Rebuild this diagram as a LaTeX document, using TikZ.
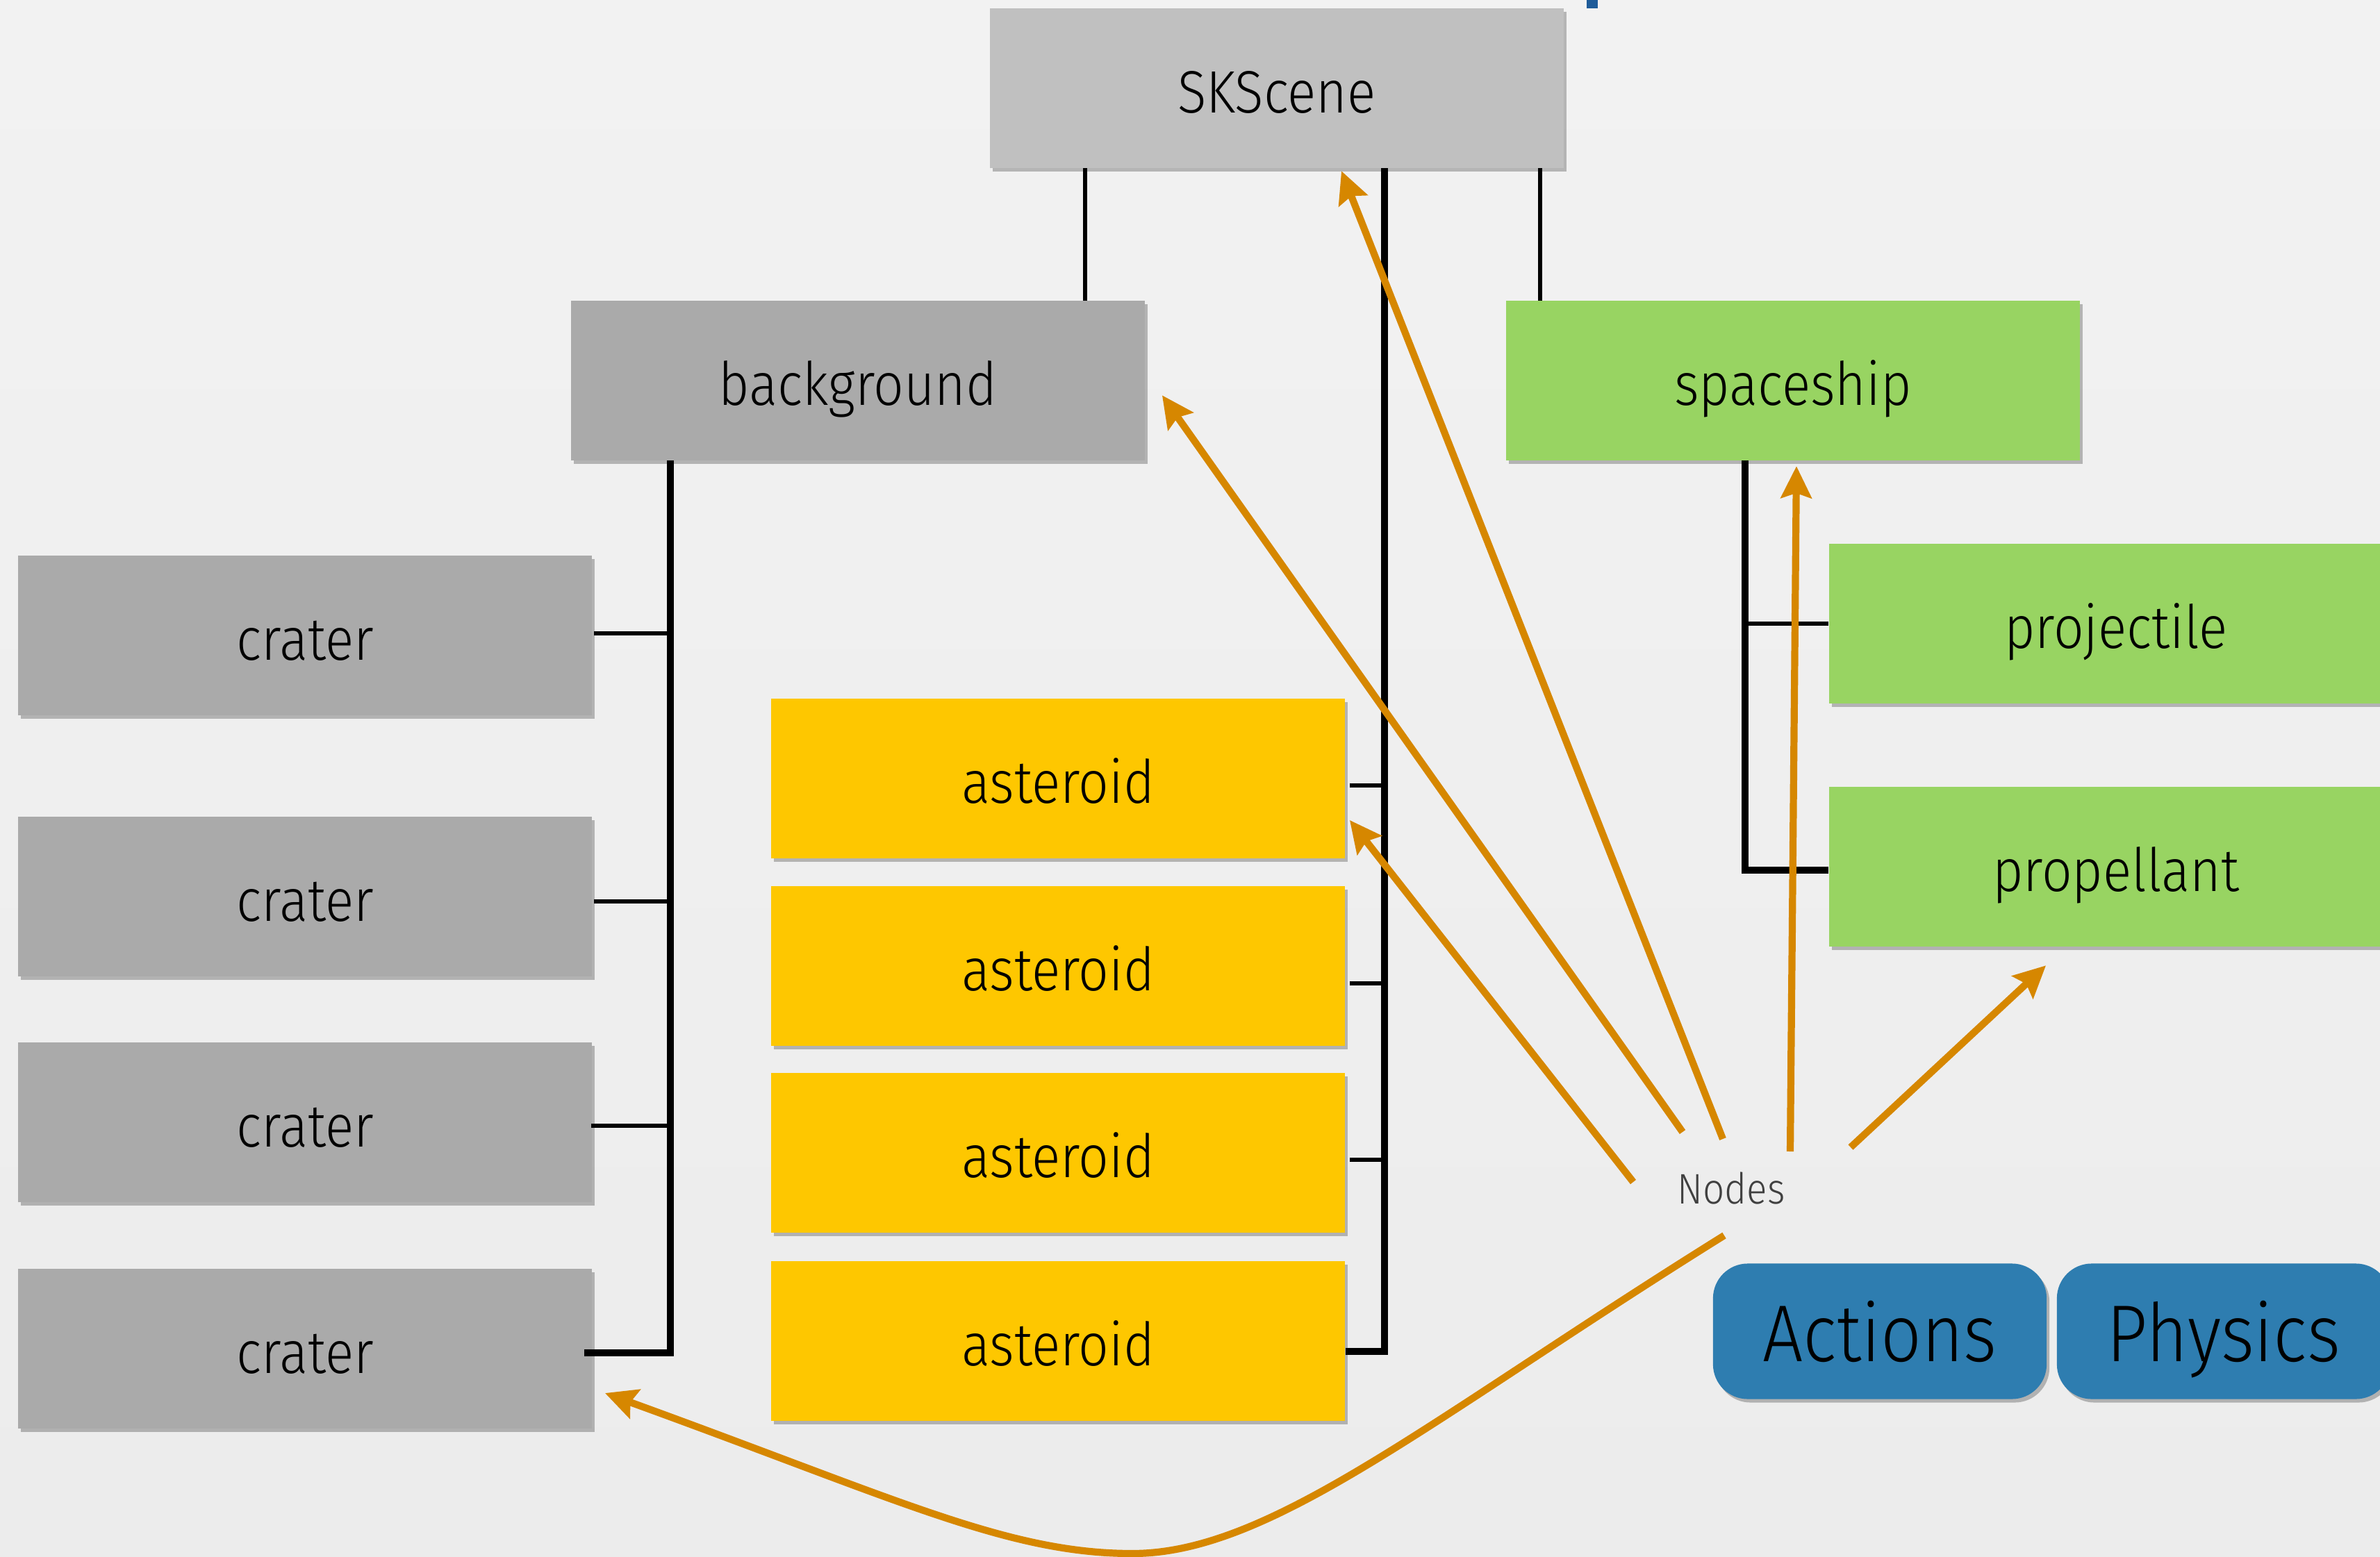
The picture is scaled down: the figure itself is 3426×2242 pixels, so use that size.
\documentclass[tikz,border=0pt]{standalone}
\usepackage{fontspec}
\setmainfont{Fira Sans}[UprightFont=* Light, FakeStretch=0.89]
\usetikzlibrary{arrows.meta,shadows,calc}
\definecolor{pagetop}{HTML}{F2F2F2}
\definecolor{pagemid}{HTML}{FDFDFD}
\definecolor{pagebot}{HTML}{ECECEC}
\definecolor{scenegray}{HTML}{C0C0C0}
\definecolor{nodegray}{HTML}{AAAAAA}
\definecolor{shipgreen}{HTML}{98D462}
\definecolor{rockyellow}{HTML}{FEC700}
\definecolor{featureblue}{HTML}{2E7DB0}
\definecolor{pointer}{HTML}{D68700}
\definecolor{titleblue}{HTML}{1F5C99}
\tikzset{
  treebox/.style={rectangle, inner sep=0pt, minimum width=8.26cm, minimum height=2.29cm,
    text height=20pt, text depth=0pt,
    font=\fontsize{24.5}{28}\selectfont, text=black,
    drop shadow={shadow xshift=0.04cm, shadow yshift=-0.05cm, opacity=0.25, fill=black}},
  feature/.style={rectangle, rounded corners=0.5cm, inner sep=0pt, minimum width=4.8cm,
    minimum height=1.95cm, fill=featureblue, text height=24.5pt, text depth=0pt,
    font=\fontsize{33}{38}\selectfont, text=black,
    drop shadow={shadow xshift=0.04cm, shadow yshift=-0.05cm, opacity=0.25, fill=black}},
  thinlink/.style={draw=black, line width=1.5pt},
  thicklink/.style={draw=black, line width=3.1pt},
  pointer arrow/.style={draw=pointer, line width=2.9pt,
    -{Stealth[length=13pt, width=12.5pt, inset=2pt]}}
}
\begin{document}
\begin{tikzpicture}[x=0.01cm, y=-0.01cm]
\useasboundingbox (0,0) rectangle (3426,2242);
\shade[top color=pagetop, middle color=pagemid, bottom color=pagebot] (0,0) rectangle (3426,2242);
% fragment of the heading above the tree
\fill[titleblue] (2284,0) rectangle (2300,12);

% scene graph
\node[treebox, fill=scenegray] (sks) at (1838,127) {SKScene};
\node[treebox, fill=nodegray] (bg) at (1235,548) {background};
\node[treebox, fill=shipgreen] (ship) at (2581,548) {spaceship};

\node[treebox, fill=nodegray] (crater1) at (439,915) {crater};
\node[treebox, fill=nodegray] (crater2) at (439,1291) {crater};
\node[treebox, fill=nodegray] (crater3) at (439,1616) {crater};
\node[treebox, fill=nodegray] (crater4) at (439,1942) {crater};

\node[treebox, fill=rockyellow] (ast1) at (1523,1121) {asteroid};
\node[treebox, fill=rockyellow] (ast2) at (1523,1391) {asteroid};
\node[treebox, fill=rockyellow] (ast3) at (1523,1660) {asteroid};
\node[treebox, fill=rockyellow] (ast4) at (1523,1931) {asteroid};

\node[treebox, fill=shipgreen] (proj) at (3046,898) {projectile};
\node[treebox, fill=shipgreen] (propel) at (3046,1248) {propellant};

\node[feature] (actions) at (2706,1917) {Actions};
\node[feature] (physics) at (3201,1917) {Physics};

\node[font=\fontsize{17.5}{20}\selectfont, text=black!75] (label) at (2492,1711) {Nodes};

% tree links
\coordinate (xbg) at (1562,0);
\coordinate (xship) at (2217,0);
\coordinate (xast) at (1993,0);
\coordinate (xcr) at (965,0);
\coordinate (xsp) at (2512,0);

\draw[thinlink] (sks.south -| xbg) -- (bg.north -| xbg);
\draw[thinlink] (sks.south -| xship) -- (ship.north -| xship);

\draw[thicklink] (sks.south -| xast) -- ($(xast |- ast4.east)+(0,15)$) -- ($(ast4.east)+(0,15)$);
\draw[thinlink] ($(ast1.east)+(6,10)$) -- ($(xast |- ast1.east)+(0,10)$);
\draw[thinlink] ($(ast2.east)+(6,25)$) -- ($(xast |- ast2.east)+(0,25)$);
\draw[thinlink] ($(ast3.east)+(6,10)$) -- ($(xast |- ast3.east)+(0,10)$);

\draw[thicklink] (bg.south -| xcr) -- ($(xcr |- crater4.east)+(0,6)$) -- ($(crater4.east)+(-12,6)$);
\draw[thinlink] ($(crater1.east)+(2,-3)$) -- ($(xcr |- crater1.east)+(0,-3)$);
\draw[thinlink] ($(crater2.east)+(2,7)$) -- ($(xcr |- crater2.east)+(0,7)$);
\draw[thinlink] ($(crater3.east)+(-2,5)$) -- ($(xcr |- crater3.east)+(0,5)$);

\draw[thicklink] (ship.south -| xsp) -- ($(xsp |- propel.west)+(0,5)$) -- ($(propel.west)+(0,5)$);
\draw[thinlink] (xsp |- proj.west) -- (proj.west);

% pointers from the label
\coordinate (vb) at (1630,2237);
\draw[pointer arrow] ($(label)+(-12,-71)$) -- ($(sks.south)+(93,4)$);
\draw[pointer arrow] ($(label)+(-70,-81)$) -- ($(bg.south east)+(24,-94)$);
\draw[pointer arrow] ($(label)+(-141,-9)$) -- ($(ast1.east)+(6,60)$);
\draw[pointer arrow] ($(label)+(85,-53)$) -- ($(ship.south)+(5,8)$);
\draw[pointer arrow] ($(label)+(172,-59)$) -- ($(propel.south west)+(313,27)$);
\draw[pointer arrow] ($(label)+(-10,68)$) .. controls (2057,2044) and (1830,2237) .. (vb)
  .. controls (1450,2237) and (1293,2159) .. ($(crater4.east)+(18,64)$);
\end{tikzpicture}
\end{document}
